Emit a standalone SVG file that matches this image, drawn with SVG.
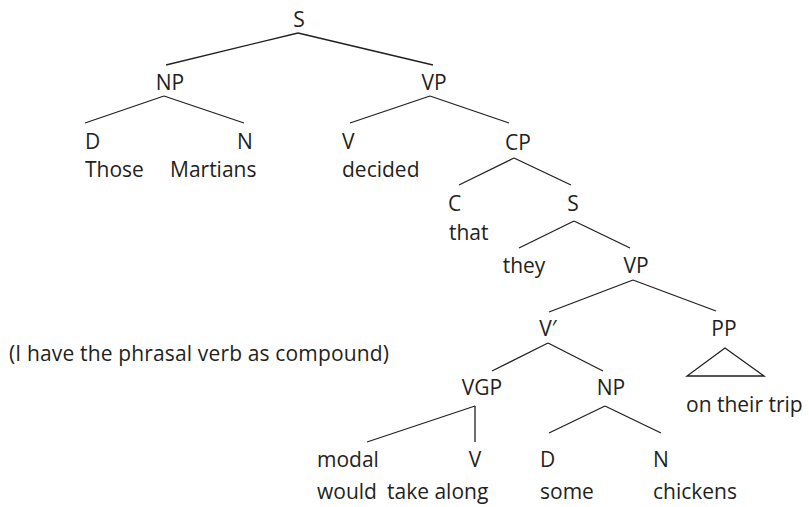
<svg xmlns="http://www.w3.org/2000/svg" width="809" height="507" viewBox="0 0 809 507">
<style>
text{font-family:"Open Sans","Liberation Sans",sans-serif;font-size:21px;fill:#231f20}
.m{text-anchor:middle}
#edges line,#edges polygon{stroke:#231f20;stroke-width:1.3;fill:none}
</style>
<rect width="809" height="507" fill="#fff"/>
<g id="edges">
<line x1="298" y1="33" x2="166" y2="65"/>
<line x1="298" y1="33" x2="433" y2="65"/>
<line x1="164" y1="96" x2="85" y2="123"/>
<line x1="164" y1="96" x2="244" y2="123"/>
<line x1="430" y1="96" x2="350" y2="123"/>
<line x1="430" y1="96" x2="509" y2="123"/>
<line x1="514" y1="158" x2="459" y2="185"/>
<line x1="514" y1="158" x2="571" y2="185"/>
<line x1="574" y1="221" x2="519" y2="248"/>
<line x1="574" y1="221" x2="630" y2="248"/>
<line x1="633" y1="280" x2="549" y2="312"/>
<line x1="633" y1="280" x2="716" y2="311"/>
<line x1="548" y1="343" x2="492" y2="371"/>
<line x1="548" y1="343" x2="603" y2="371"/>
<line x1="475" y1="406" x2="367" y2="442"/>
<line x1="475" y1="406" x2="475" y2="442"/>
<line x1="605" y1="406" x2="549" y2="433"/>
<line x1="605" y1="406" x2="661" y2="433"/>
<polygon points="725,348 687,376 764,376"/>
</g>
<g id="n-S"><text x="299" y="27" class="m">S</text></g>
<g id="n-NP"><text x="170" y="90" class="m">NP</text></g>
<g id="n-VP"><text x="434" y="90" class="m">VP</text></g>
<g id="n-D1"><text x="85" y="149">D</text><text x="85" y="177">Those</text></g>
<g id="n-N1"><text x="245" y="149" class="m">N</text><text x="170" y="177">Martians</text></g>
<g id="n-V1"><text x="342" y="149">V</text><text x="342" y="177">decided</text></g>
<g id="n-CP"><text x="518" y="150" class="m">CP</text></g>
<g id="n-C"><text x="448" y="211">C</text><text x="449" y="240">that</text></g>
<g id="n-S2"><text x="573" y="211" class="m">S</text></g>
<g id="n-they"><text x="524" y="273" class="m">they</text></g>
<g id="n-VP2"><text x="636" y="273" class="m">VP</text></g>
<g id="n-Vbar"><text x="548" y="336" class="m">V′</text></g>
<g id="n-PP"><text x="724" y="336" class="m">PP</text><text x="686" y="412">on their trip</text></g>
<g id="n-note"><text x="9" y="361" textLength="380">(I have the phrasal verb as compound)</text></g>
<g id="n-VGP"><text x="482" y="395" class="m">VGP</text></g>
<g id="n-NP2"><text x="611" y="395" class="m">NP</text></g>
<g id="n-modal"><text x="317" y="467">modal</text></g>
<g id="n-V2"><text x="475" y="467" class="m">V</text></g>
<g id="n-words"><text x="317" y="499">would <tspan x="387">take along</tspan></text></g>
<g id="n-D2"><text x="540" y="467">D</text><text x="540" y="499">some</text></g>
<g id="n-N2"><text x="653" y="467">N</text><text x="653" y="499">chickens</text></g>
</svg>
